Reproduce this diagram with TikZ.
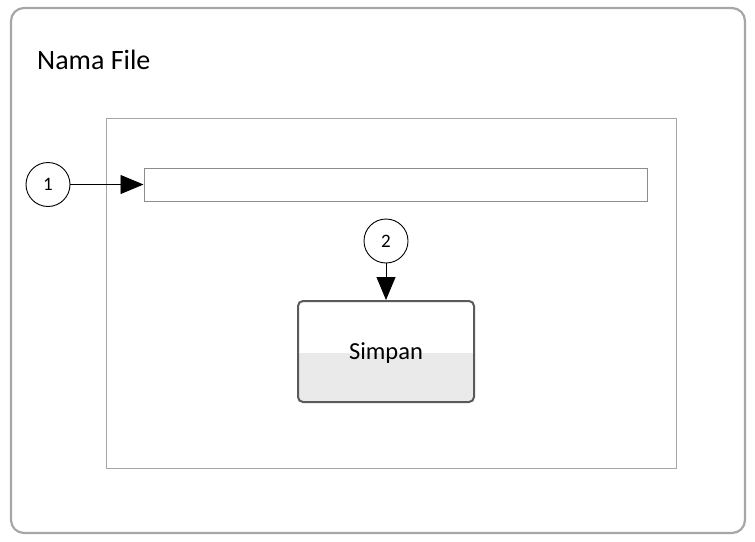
\documentclass[tikz,border=0pt]{standalone}
\usepackage{fontspec}
\setmainfont{Carlito}
\usetikzlibrary{arrows.meta}
\definecolor{framegray}{HTML}{A6A6A6}
\definecolor{btnborder}{HTML}{5A5A5A}
\definecolor{btnfill}{HTML}{EAEAEA}
\begin{document}
\begin{tikzpicture}[x=1pt,y=-1pt,
  callout/.style={circle,draw=black,line width=0.9pt,minimum size=44pt,inner sep=0pt,font=\fontsize{19}{21}\selectfont},
  pointer/.style={line width=0.9pt,-{Triangle[length=23pt,width=19pt]}},
  field/.style={draw=gray!90,line width=1pt,rectangle,inner sep=0pt}]
\useasboundingbox (0,0) rectangle (755,541);
% window frame
\draw[framegray,line width=2.2pt,rounded corners=13pt] (11,8) rectangle (745,533);
\node[anchor=west,font=\fontsize{28}{32}\selectfont,inner sep=0pt] (title) at (37,60) {Nama File};
% form panel
\draw[framegray,line width=1pt] (106,118) rectangle (676,468);
% text field
\node[field,minimum width=503pt,minimum height=33pt] (namefield) at (395.5,184.5) {};
% save button
\begin{scope}
\clip[rounded corners=5pt] (298,301) rectangle (474,402);
\fill[btnfill] (298,353) rectangle (474,402);
\end{scope}
\node[draw=btnborder,line width=2pt,rounded corners=5pt,minimum width=176pt,minimum height=101pt,inner sep=0pt,text depth=0pt,font=\fontsize{24.5}{28}\selectfont] (save) at (386,351.5) {Simpan};
% callouts
\node[callout] (c1) at (48,184.5) {1};
\node[callout] (c2) at (386,241) {2};
\draw[pointer] (c1) -- (namefield.west);
\draw[pointer] (c2) -- (save.north);
\end{tikzpicture}
\end{document}
